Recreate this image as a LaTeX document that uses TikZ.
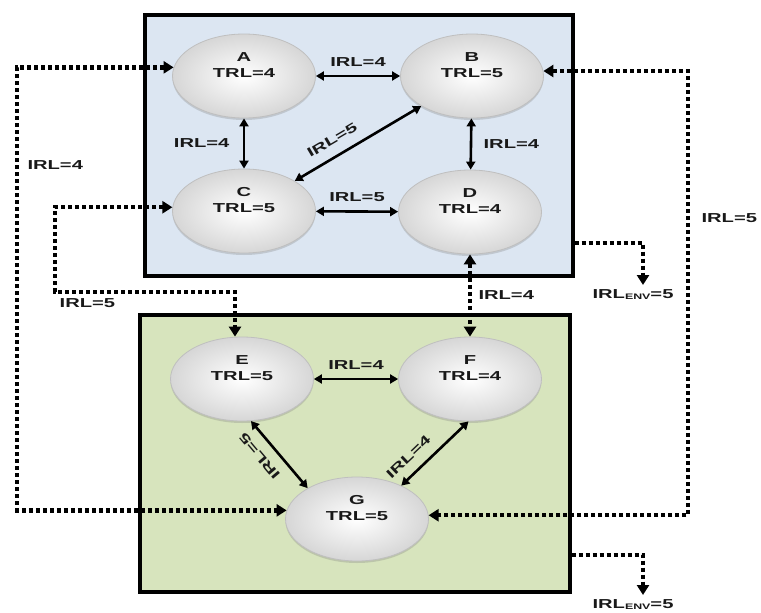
\documentclass[tikz,border=0pt]{standalone}
\usepackage{fontspec}
\setmainfont{Liberation Sans}[FakeStretch=1.55]
\usetikzlibrary{arrows.meta,shapes.geometric,shadows}
\definecolor{topfill}{HTML}{DCE6F2}
\definecolor{botfill}{HTML}{D7E4BD}
\newcommand\lblfont{\fontsize{13}{16}\selectfont\bfseries}
\newcommand\envsub[1]{{\fontsize{8}{8}\selectfont\raisebox{-1.5pt}{#1}}}
\tikzset{
 area/.style={draw=black, line width=3.4pt, inner sep=0pt},
 ell/.style={ellipse, minimum width=143pt, minimum height=84pt, draw=gray!50, line width=0.8pt,
   inner color=white, outer color=gray!32,
   drop shadow={shadow xshift=0pt, shadow yshift=-2pt, opacity=0.3}},
 elltxt/.style={align=center, font=\lblfont, yshift=10.5pt, text=black!90},
 lbl/.style={font=\lblfont, text=black!90},
 sarr/.style={line width=2.6pt, {Triangle[length=8pt,width=9pt]}-{Triangle[length=8pt,width=9pt]}},
 dline/.style={line width=4.4pt, dash pattern=on 4pt off 3pt},
 dboth/.style={dline, {Triangle[length=10pt,width=12pt]}-{Triangle[length=10pt,width=12pt]}},
 dend/.style={dline, -{Triangle[length=10pt,width=12pt]}},
}
\begin{document}
\begin{tikzpicture}[x=1pt,y=-1pt]
\useasboundingbox (0,0) rectangle (761,613);
% boxes
\node[area, fill=topfill, minimum width=428pt, minimum height=261pt] (top) at (359,145.5) {};
\node[area, fill=botfill, minimum width=430pt, minimum height=277pt] (bot) at (355,453.5) {};
% nodes
\node[ell, label={[elltxt]center:A\\TRL=4}] (A) at (244,76) {};
\node[ell, label={[elltxt]center:B\\TRL=5}] (B) at (472,76) {};
\node[ell, label={[elltxt]center:C\\TRL=5}] (C) at (244,211) {};
\node[ell, label={[elltxt]center:D\\TRL=4}] (D) at (470,212) {};
\node[ell, label={[elltxt]center:E\\TRL=5}] (E) at (242,379) {};
\node[ell, label={[elltxt]center:F\\TRL=4}] (F) at (470,379) {};
\node[ell, label={[elltxt]center:G\\TRL=5}] (G) at (357,519) {};
% helper coordinates
\coordinate (L1) at (17,0);
\coordinate (L2a) at (55,292);
\coordinate (L2b) at (235,292);
\coordinate (R1) at (688,0);
\coordinate (y1) at (0,243);
\coordinate (y2) at (0,555);
\coordinate (env1) at (643,285);
\coordinate (env2) at (643,595);
% dashed connectors
\draw[dboth] (A.173) -- (A.173 -| L1) -- node[pos=0.22, right=5pt, lbl] {IRL=4} (G.173 -| L1) -- (G.173);
\draw[dboth] (C.177) -- (C.177 -| L2a) -- (L2a) -- node[pos=0.18, below=1pt, lbl] {IRL=5} (L2b) -- (E.north -| L2b);
\draw[dboth] (B.4) -- (B.4 -| R1) -- node[pos=0.33, right=8pt, lbl] {IRL=5} (G.3 -| R1) -- (G.3);
\draw[dboth] (D) -- node[midway, right=3pt, lbl] {IRL=4} (F);
\draw[dend] (top.east |- y1) -| (env1);
\node[lbl, anchor=north, inner sep=2pt] (envlab1) at (633,287) {IRL\envsub{ENV}=5};
\draw[dend] (bot.east |- y2) -| (env2);
\node[lbl, anchor=north, inner sep=1pt] (envlab2) at (633,598) {IRL\envsub{ENV}=5};
% solid connectors
\draw[sarr] (A) -- node[midway, above=5pt, lbl] {IRL=4} (B);
\draw[sarr] (A) -- node[midway, left=10pt, lbl] {IRL=4} (C);
\draw[sarr] (B) -- node[pos=0.64, sloped, above=7pt, lbl] {IRL=5} (C);
\draw[sarr] (B) -- node[midway, right=8pt, lbl] {IRL=4} (D);
\draw[sarr] (C) -- node[midway, above=5pt, lbl] {IRL=5} (D);
\draw[sarr] (E) -- node[midway, above=5pt, lbl] {IRL=4} (F);
\draw[sarr] (G.148) -- node[pos=0.63, sloped, allow upside down, above=7pt, lbl] {IRL=5} (E.-78);
\draw[sarr] (F.-92) -- node[pos=0.73, sloped, above=7pt, lbl] {IRL=4} (G.37);
\end{tikzpicture}
\end{document}
